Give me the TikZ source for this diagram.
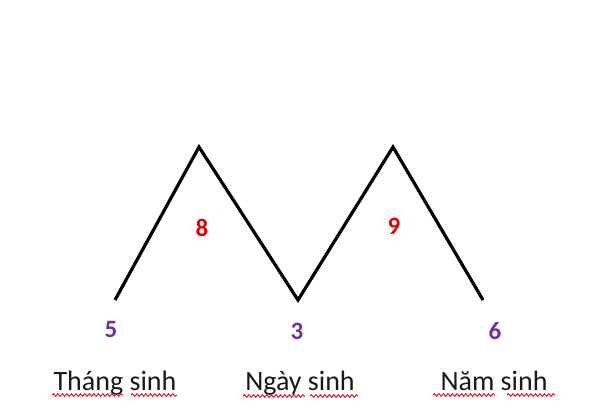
\documentclass[tikz,border=0pt]{standalone}
\usepackage{fontspec}
\setmainfont{Carlito}
\usetikzlibrary{decorations.pathmorphing}
\definecolor{numpurple}{RGB}{112,48,160}
\definecolor{numred}{RGB}{228,0,0}
\definecolor{squig}{RGB}{215,30,30}
\tikzset{
  zig/.style={line width=3.2pt, black},
  purplenum/.style={font=\fontsize{25}{28}\selectfont\bfseries, text=numpurple, inner sep=0pt},
  rednum/.style={font=\fontsize{25}{28}\selectfont\bfseries, text=numred, inner sep=0pt},
  wordlabel/.style={font=\fontsize{28}{32}\selectfont, text=black!90, inner sep=0pt, anchor=base},
  wavy/.style={squig, line width=1pt, decorate, decoration={snake, amplitude=1.3pt, segment length=4.5pt}}
}
\begin{document}
\begin{tikzpicture}[x=1pt,y=-1pt]
\useasboundingbox (0,0) rectangle (600,416);
\fill[white] (0,0) rectangle (600,416);
% zigzag
\coordinate (p1) at (115,300);
\coordinate (p2) at (199,147);
\coordinate (p3) at (298,300);
\coordinate (p4) at (393,147);
\coordinate (p5) at (483,300);
\draw[zig] (p1) -- (p2) -- (p3) -- (p4) -- (p5);
% numbers
\node[rednum] (n8) at (202,227.5) {8};
\node[rednum] (n9) at (394,226.5) {9};
\node[purplenum] (n5) at (111,329.5) {5};
\node[purplenum] (n3) at (297,331) {3};
\node[purplenum] (n6) at (495,331.5) {6};
% labels
\node[wordlabel] (l1) at (115,390) {Tháng sinh};
\node[wordlabel] (l2) at (300,390) {Ngày sinh};
\node[wordlabel] (l3) at (494,390) {Năm sinh};
% spell-check underlines
\coordinate (u1a) at (52,395); \coordinate (u1b) at (123,395);
\coordinate (u1c) at (131,395); \coordinate (u1d) at (177,395);
\coordinate (u2a) at (243,396); \coordinate (u2b) at (305,396);
\coordinate (u2c) at (310,396); \coordinate (u2d) at (358,396);
\coordinate (u3a) at (433,395); \coordinate (u3b) at (495,395);
\coordinate (u3c) at (507,395); \coordinate (u3d) at (555,395);
\draw[wavy] (u1a) -- (u1b);
\draw[wavy] (u1c) -- (u1d);
\draw[wavy] (u2a) -- (u2b);
\draw[wavy] (u2c) -- (u2d);
\draw[wavy] (u3a) -- (u3b);
\draw[wavy] (u3c) -- (u3d);
\end{tikzpicture}
\end{document}
